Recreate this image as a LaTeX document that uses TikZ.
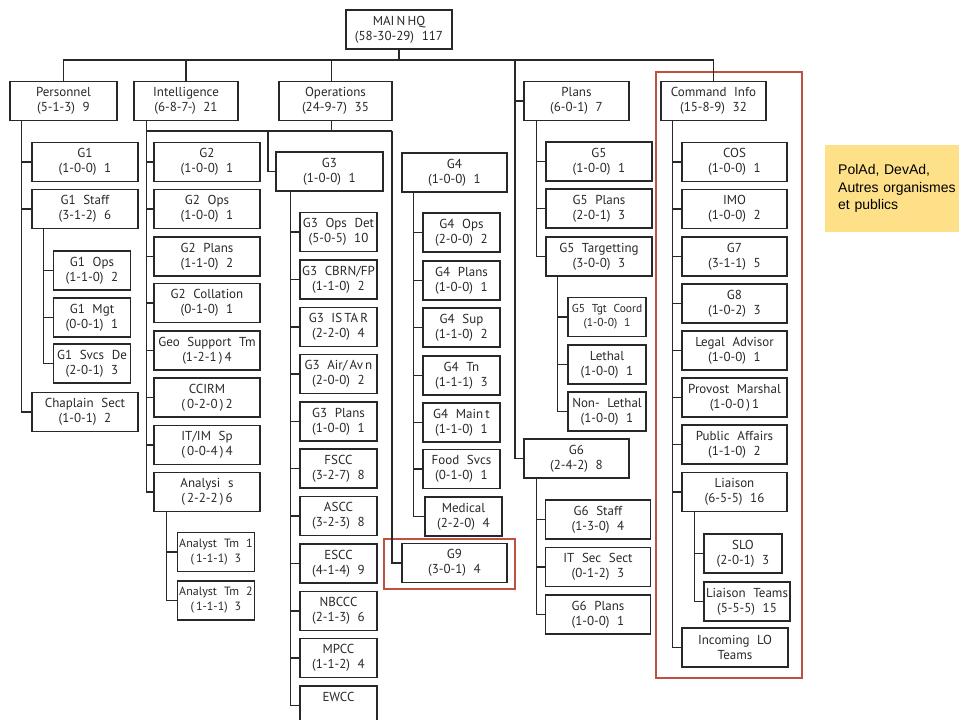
\documentclass[tikz,border=0pt]{standalone}
\usepackage{fontspec}
\newfontfamily\unitfont{PT Sans}[WordSpace=2.2]
\newfontfamily\notefont{Liberation Sans}
\definecolor{hilite}{RGB}{192,80,66}
\definecolor{notefill}{RGB}{253,224,135}
\definecolor{linegray}{RGB}{40,40,40}

\begin{document}
\begin{tikzpicture}[x=1pt,y=-1pt,
  unit/.style={draw=linegray, line width=1.3pt, text=linegray, minimum width=106pt, minimum height=39pt,
    inner sep=1pt, align=center, font=\unitfont\fontsize{13}{15}\selectfont},
  subunit/.style={unit, minimum width=77pt},
  smallunit/.style={subunit, font=\unitfont\fontsize{11.5}{14}\selectfont},
  link/.style={draw=linegray, line width=1.2pt},
  frame/.style={draw=hilite, line width=1.2pt},
  note/.style={fill=notefill, anchor=north west, minimum width=140pt, minimum height=87pt,
    text width=120pt, inner xsep=13pt, align=left, font=\notefont\fontsize{14}{17.5}\selectfont}]
\useasboundingbox (0,0) rectangle (959,720);
\clip (0,0) rectangle (959,720);

% headquarters and branches
\node[unit] (hq) at (399,29.5) {MAI\,N\,HQ\\(58-30-29)  117};
\node[unit, minimum width=107pt] (per) at (63.5,101) {Personnel\\(5-1-3)  9};
\node[unit, minimum width=104pt] (int) at (186,101) {Intelligence\\(6-8-7-)  21};
\node[unit, minimum width=113pt] (ops) at (335.5,101) {Operations\\(24-9-7)  35};
\node[unit, minimum width=105pt] (plans) at (576.5,101) {Plans\\(6-0-1)  7};
\node[unit, minimum width=105pt] (ci) at (713.5,101) {Command  Info\\(15-8-9)  32};

% personnel
\node[unit] (g1) at (85,162) {G1\\(1-0-0)  1};
\node[unit] (g1staff) at (85,209) {G1  Staff\\(3-1-2)  6};
\node[subunit] (g1ops) at (92,270.5) {G1  Ops\\(1-1-0)  2};
\node[subunit] (g1mgt) at (92,317.5) {G1  Mgt\\(0-0-1)  1};
\node[subunit] (g1svcs) at (92,363.5) {G1  Svcs  De\\(2-0-1)  3};
\node[unit] (chaplain) at (85,412) {Chaplain  Sect\\(1-0-1)  2};

% intelligence
\node[unit] (g2) at (207,162) {G2\\(1-0-0)  1};
\node[unit] (g2ops) at (207,209) {G2  Ops\\(1-0-0)  1};
\node[unit] (g2plans) at (207,256.5) {G2  Plans\\(1-1-0)  2};
\node[unit] (g2coll) at (207,303) {G2  Collation\\(0-1-0)  1};
\node[unit] (geo) at (207,350.5) {Geo  Support  Tm\\(1-2-1\,)\,4};
\node[unit] (ccirm) at (207,397.5) {CCIRM\\(\,0-2-0\,)\,2};
\node[unit] (itim) at (207,445) {IT/IM  Sp\\(\,0-0-4\,)\,4};
\node[unit] (analysis) at (207,492) {Analysi  s\\(\,2-2-2\,)\,6};
\node[subunit, font=\unitfont\fontsize{12}{15}\selectfont] (analyst1) at (216,552) {Analyst  Tm  1\\(\,1-1-1)  3};
\node[subunit, font=\unitfont\fontsize{12}{15}\selectfont] (analyst2) at (216,600.5) {Analyst  Tm  2\\(\,1-1-1)  3};

% operations
\node[unit, minimum width=107pt] (g3) at (329.5,171.5) {G3\\(1-0-0)  1};
\node[subunit] (g3det) at (338.5,232) {G3  Ops  Det\\(5-0-5)  10};
\node[subunit] (g3cbrn) at (338.5,279.5) {G3  CBRN/FP\\(1-1-0)  2};
\node[subunit] (g3istar) at (338.5,327) {G3  IS\,TA\,R\\(2-2-0)  4};
\node[subunit] (g3air) at (338.5,374) {G3  Air/\,Av\,n\\(2-0-0)  2};
\node[subunit] (g3plans) at (338.5,421.5) {G3  Plans\\(1-0-0)  1};
\node[subunit] (fscc) at (338.5,468.5) {FSCC\\(3-2-7)  8};
\node[subunit] (ascc) at (338.5,516) {ASCC\\(3-2-3)  8};
\node[subunit] (escc) at (338.5,563.5) {ESCC\\(4-1-4)  9};
\node[subunit] (nbccc) at (338.5,611) {NBCCC\\(2-1-3)  6};
\node[subunit] (mpcc) at (338.5,658) {MPCC\\(1-1-2)  4};
\node[subunit] (ewcc) at (338.5,705.5) {EWCC\\\phantom{(0-0-0)}};

\node[unit, minimum width=105pt] (g4) at (454.5,172.5) {G4\\(1-0-0)  1};
\node[subunit] (g4ops) at (461.5,232.5) {G4  Ops\\(2-0-0)  2};
\node[subunit] (g4plans) at (461.5,280.5) {G4  Plans\\(1-0-0)  1};
\node[subunit] (g4sup) at (461.5,327.5) {G4  Sup\\(1-1-0)  2};
\node[subunit] (g4tn) at (461.5,375.5) {G4  Tn\\(1-1-1)  3};
\node[subunit] (g4maint) at (461.5,422.5) {G4  Main\,t\\(1-1-0)  1};
\node[subunit] (food) at (461.5,469) {Food  Svcs\\(0-1-0)  1};
\node[subunit] (medical) at (463.5,516.5) {Medical\\(2-2-0)  4};
\node[unit, minimum width=105pt] (g9) at (454.5,563) {G9\\(3-0-1)  4};

% plans
\node[unit] (g5) at (599,161.5) {G5\\(1-0-0)  1};
\node[unit] (g5plans) at (599,208.5) {G5  Plans\\(2-0-1)  3};
\node[unit] (g5tgt) at (599,256.5) {G5  Targetting\\(3-0-0)  3};
\node[smallunit, minimum width=78pt] (g5coord) at (607,317) {G5 Tgt Coord\\(1-0-0) 1};
\node[subunit, minimum width=78pt] (lethal) at (607,364.5) {Lethal\\(1-0-0)  1};
\node[subunit, minimum width=78pt] (nonlethal) at (607,411.5) {Non-  Lethal\\(1-0-0)  1};
\node[unit, minimum width=105pt] (g6) at (576.5,458.5) {G6\\(2-4-2)  8};
\node[unit, minimum width=105pt] (g6staff) at (598,519.5) {G6  Staff\\(1-3-0)  4};
\node[unit, minimum width=105pt] (itsec) at (598,567) {IT  Sec  Sect\\(0-1-2)  3};
\node[unit, minimum width=105pt] (g6plans) at (598,614.5) {G6  Plans\\(1-0-0)  1};

% command info
\node[unit, minimum width=105pt] (cos) at (734.5,162) {COS\\(1-0-0)  1};
\node[unit, minimum width=105pt] (imo) at (734.5,209) {IMO\\(1-0-0)  2};
\node[unit, minimum width=105pt] (g7) at (734.5,256.5) {G7\\(3-1-1)  5};
\node[unit, minimum width=105pt] (g8) at (734.5,303.5) {G8\\(1-0-2)  3};
\node[unit, minimum width=105pt] (legal) at (734.5,350.5) {Legal  Advisor\\(1-0-0)  1};
\node[unit, minimum width=105pt] (provost) at (734.5,397.5) {Provost  Marshal\\(1-0-0\,)\,1};
\node[unit, minimum width=105pt] (public) at (734.5,444.5) {Public  Affairs\\(1-1-0)  2};
\node[unit, minimum width=105pt] (liaison) at (734.5,492) {Liaison\\(6-5-5)  16};
\node[subunit, minimum width=78pt] (slo) at (743,553.5) {SLO\\(2-0-1)  3};
\node[subunit, minimum width=86pt] (lteams) at (747,601.5) {Liaison  Teams\\(5-5-5)  15};
\node[unit] (incoming) at (735,647.5) {Incoming  LO\\Teams};

\node[note] (poldev) at (825,145) {PolAd, DevAd,\\Autres organismes\\et publics};

% highlight frames
\draw[frame] (656,72) rectangle (802,678);
\draw[frame] (384,539) rectangle (515,589);

% top bus
\coordinate (bus) at (0,60);
\coordinate (opsrail) at (0,131);
\coordinate (planstem) at (515,60);
\coordinate (g3rail) at (268,131);
\coordinate (g9rail) at (392,131);
\draw[link] (hq.south) -- (hq.south |- bus);
\draw[link] (per.north) -- (per.north |- bus) -- (ci.north |- bus) -- (ci.north);
\draw[link] (int.north) -- (int.north |- bus);
\draw[link] ([xshift=-4pt]ops.north) -- ([xshift=-4pt]ops.north |- bus);
\draw[link] (planstem) |- (plans.west);
\draw[link] (planstem) |- (g6.west);

% stems
\coordinate (perstem) at ([xshift=12pt]per.south west);
\coordinate (g1stem) at ([xshift=12pt]g1staff.south west);
\coordinate (intstem) at ([xshift=13pt]int.south west);
\coordinate (anstem) at ([xshift=13pt]analysis.south west);
\coordinate (g3stem) at ([xshift=15pt]g3.south west);
\coordinate (g4stem) at ([xshift=12pt]g4.south west);
\coordinate (plstem) at ([xshift=13pt]plans.south west);
\coordinate (tgtstem) at ([xshift=12pt]g5tgt.south west);
\coordinate (g6stem) at ([xshift=13pt]g6.south west);
\coordinate (cistem) at ([xshift=12pt]ci.south west);
\coordinate (listem) at ([xshift=13pt]liaison.south west);

\draw[link] ([xshift=-4pt]ops.south) -- ([xshift=-4pt]ops.south |- opsrail);
\draw[link] (intstem |- opsrail) -- (g9rail);
\draw[link] (g3rail) |- (g3.west);
\draw[link] (g9rail) |- (g9.west);

\foreach \c in {g1,g1staff,chaplain} \draw[link] (perstem) |- (\c.west);
\foreach \c in {g1ops,g1mgt,g1svcs} \draw[link] (g1stem) |- (\c.west);
\foreach \c in {g2,g2ops,g2plans,g2coll,geo,ccirm,itim,analysis} \draw[link] (intstem) |- (\c.west);
\foreach \c in {analyst1,analyst2} \draw[link] (anstem) |- (\c.west);
\foreach \c in {g3det,g3cbrn,g3istar,g3air,g3plans,fscc,ascc,escc,nbccc,mpcc,ewcc} \draw[link] (g3stem) |- (\c.west);
\foreach \c in {g4ops,g4plans,g4sup,g4tn,g4maint,food,medical} \draw[link] (g4stem) |- (\c.west);
\foreach \c in {g5,g5plans,g5tgt} \draw[link] (plstem) |- (\c.west);
\foreach \c in {g5coord,lethal,nonlethal} \draw[link] (tgtstem) |- (\c.west);
\foreach \c in {g6staff,itsec,g6plans} \draw[link] (g6stem) |- (\c.west);
\foreach \c in {cos,imo,g7,g8,legal,provost,public,liaison,incoming} \draw[link] (cistem) |- (\c.west);
\foreach \c in {slo,lteams} \draw[link] (listem) |- (\c.west);
\end{tikzpicture}
\end{document}
